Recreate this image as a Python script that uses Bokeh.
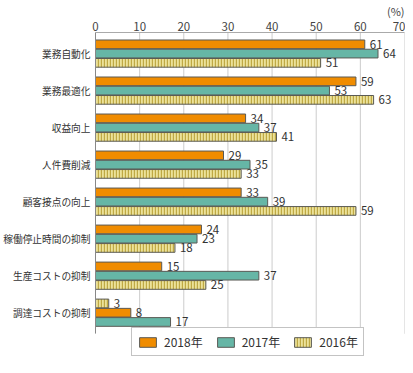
from bokeh.plotting import figure
from bokeh.models import ColumnDataSource, FixedTicker, Legend, LegendItem
from bokeh.core.properties import value
from bokeh.embed import file_html
from bokeh.resources import INLINE

# ---- data -------------------------------------------------------------
categories = ["業務自動化", "業務最適化", "収益向上", "人件費削減",
              "顧客接点の向上", "稼働停止時間の抑制", "生産コストの抑制", "調達コストの抑制"]
years = ["2018年", "2017年", "2016年"]
v2018 = [61, 59, 34, 29, 33, 24, 15, 8]
v2017 = [64, 53, 37, 35, 39, 23, 37, 17]
v2016 = [51, 63, 41, 33, 59, 18, 25, 3]
# top-to-bottom order of the bars inside each category, as in the source chart
bar_order = [years] * 7 + [["2016年", "2018年", "2017年"]]
x_ticks = [0, 10, 20, 30, 40, 50, 60, 70]

FONT = "Noto Sans CJK JP"
N = len(categories)

styles = {
    "2018年": dict(fill_color="#F08C00", hatch_pattern=None),
    "2017年": dict(fill_color="#66B6A6", hatch_pattern=None),
    "2016年": dict(fill_color="#ECE29A", hatch_pattern="vertical_line"),
}
series = {"2018年": v2018, "2017年": v2017, "2016年": v2016}

Y_TOP = N - 1 + 0.57        # top of the bar area
Y_BOT = -0.57               # bottom of the bar area
Y_LEG = Y_BOT - 0.64        # extra room below for the legend

p = figure(width=405, height=357, x_range=(0, 70), y_range=(Y_LEG, Y_TOP),
           x_axis_location="above", output_backend="svg", toolbar_location=None,
           title="(%)", title_location="above",
           min_border_left=94, min_border_right=1, min_border_top=32, min_border_bottom=0)
p.outline_line_color = None
p.background_fill_color = "white"
p.border_fill_color = "white"

p.title.align = "right"
p.title.text_font = FONT
p.title.text_font_size = "11px"
p.title.text_font_style = "normal"
p.title.text_color = "#444444"
p.title.standoff = 0
p.title.offset = 0

# vertical grid lines limited to the bar area
p.segment(x0=x_ticks, y0=[Y_BOT] * len(x_ticks), x1=x_ticks, y1=[Y_TOP] * len(x_ticks),
          line_color="#cccccc", line_width=1)

renderers = {}
for yr in years:
    vals = series[yr]
    ys = []
    for i in range(N):
        slot = bar_order[i].index(yr)
        ys.append((N - 1 - i) + (1 - slot) * 0.25)
    src = ColumnDataSource(dict(y=ys, v=vals, lab=[str(v) for v in vals]))
    st = styles[yr]
    kw = dict(fill_color=st["fill_color"], line_color="#5a5a55", line_width=1)
    if st["hatch_pattern"]:
        kw.update(hatch_pattern=st["hatch_pattern"], hatch_color="#BFA944",
                  hatch_scale=3, hatch_weight=1.4)
    r = p.hbar(y="y", right="v", left=0, height=0.235, source=src, **kw)
    renderers[yr] = r
    p.text(x="v", y="y", text="lab", source=src, x_offset=5, y_offset=0,
           text_baseline="middle", text_align="left",
           text_font=value(FONT), text_font_size="11.5px", text_color="#333333")

# x axis (top)
xa = p.xaxis[0]
xa.ticker = FixedTicker(ticks=x_ticks)
xa.major_label_text_font = FONT
xa.major_label_text_font_size = "11.5px"
xa.major_label_text_color = "#444444"
xa.axis_line_color = "#aaaaaa"
xa.major_tick_in = 0
xa.major_tick_out = 0
xa.minor_tick_line_color = None
xa.major_label_standoff = 2
p.xgrid.grid_line_color = None

# y axis
ya = p.yaxis[0]
ya.ticker = FixedTicker(ticks=list(range(N)))
ya.major_label_overrides = {N - 1 - i: c for i, c in enumerate(categories)}
ya.bounds = (Y_BOT, Y_TOP)
ya.major_label_text_font = FONT
ya.major_label_text_font_size = "9.7px"
ya.major_label_text_color = "#333333"
ya.axis_line_color = "#888888"
ya.major_tick_in = 0
ya.major_tick_out = 0
ya.minor_tick_line_color = None
ya.major_label_standoff = 5
p.ygrid.grid_line_color = None

legend = Legend(items=[LegendItem(label=yr, renderers=[renderers[yr]]) for yr in years],
                orientation="horizontal", location=(36, 1),
                glyph_width=21, glyph_height=12, label_standoff=6, spacing=12,
                padding=5, margin=0, label_height=12,
                label_text_font=FONT, label_text_font_size="12px",
                label_text_color="#333333", border_line_color="#888888",
                background_fill_alpha=1)
p.add_layout(legend, "center")

open("out.html", "w").write(file_html(p, INLINE))
